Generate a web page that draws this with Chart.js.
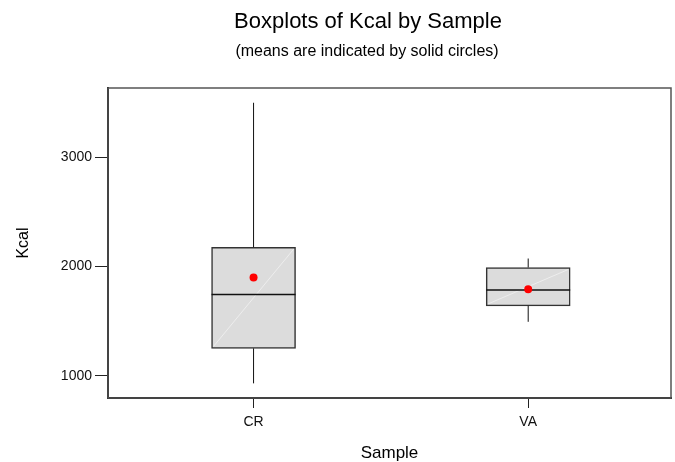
<!DOCTYPE html>
<html>
<head>
<meta charset="utf-8">
<script src="https://cdn.jsdelivr.net/npm/chart.js@4"></script>
<style>
  html, body { margin: 0; padding: 0; background: #fff; }
  #wrap { width: 675px; height: 462px; }
</style>
</head>
<body>
<div id="wrap"><canvas id="boxChart"></canvas></div>
<script>
// Kcal summary per sample
const samples = ['CR', 'VA'];
const whiskerLow = [930, 1493];
const q1 = [1250, 1639];
const median = [1743, 1783];
const q3 = [2175, 1990];
const whiskerHigh = [3497, 2072];
const means = [1899, 1792];
const yTicks = [1000, 2000, 3000];

const FONT = "'Liberation Sans', Arial, sans-serif";

// whiskers, median line and the faint diagonal inside each box
const boxParts = {
    id: 'boxParts',
    afterDatasetDraw(chart, args) {
        if (args.index !== 0) return;
        const { ctx, scales: { x, y } } = chart;
        const meta = chart.getDatasetMeta(0);
        ctx.save();
        meta.data.forEach((bar, i) => {
            const cx = x.getPixelForValue(i + 1);
            const half = bar.width / 2;
            const yTop = y.getPixelForValue(q3[i]);
            const yBot = y.getPixelForValue(q1[i]);

            ctx.strokeStyle = 'rgba(255,255,255,0.7)';
            ctx.lineWidth = 0.7;
            ctx.beginPath();
            ctx.moveTo(cx - half + 2, yBot - 2);
            ctx.lineTo(cx + half - 2, yTop + 2);
            ctx.stroke();

            ctx.strokeStyle = '#111';
            ctx.lineWidth = 1;
            ctx.beginPath();
            ctx.moveTo(cx, yTop);
            ctx.lineTo(cx, y.getPixelForValue(whiskerHigh[i]));
            ctx.moveTo(cx, yBot);
            ctx.lineTo(cx, y.getPixelForValue(whiskerLow[i]));
            ctx.stroke();

            const ym = y.getPixelForValue(median[i]);
            ctx.lineWidth = 1.5;
            ctx.beginPath();
            ctx.moveTo(cx - half, ym);
            ctx.lineTo(cx + half, ym);
            ctx.stroke();
        });
        ctx.restore();
    }
};

// frame round the plot area
const frame = {
    id: 'frame',
    beforeDatasetsDraw(chart) {
        const { ctx, chartArea: a } = chart;
        ctx.save();
        ctx.strokeStyle = '#555';
        ctx.lineWidth = 1.5;
        ctx.strokeRect(a.left, a.top, a.right - a.left, a.bottom - a.top);
        ctx.restore();
    }
};

// title and subtitle
const heading = {
    id: 'heading',
    afterDraw(chart) {
        const { ctx } = chart;
        ctx.save();
        ctx.fillStyle = '#000';
        ctx.textAlign = 'center';
        ctx.textBaseline = 'alphabetic';
        ctx.font = '22px ' + FONT;
        ctx.fillText('Boxplots of Kcal by Sample', 368, 28);
        ctx.font = '16px ' + FONT;
        ctx.fillText('(means are indicated by solid circles)', 367, 56);
        ctx.restore();
    }
};

new Chart(document.getElementById('boxChart'), {
    type: 'bar',
    data: {
        datasets: [
            {
                type: 'bar',
                data: samples.map((s, i) => ({ x: i + 1, y: [q1[i], q3[i]] })),
                backgroundColor: '#dcdcdc',
                borderColor: '#333',
                borderWidth: 1.5,
                borderSkipped: false,
                barThickness: 84,
                order: 2
            },
            {
                type: 'scatter',
                data: samples.map((s, i) => ({ x: i + 1, y: means[i] })),
                backgroundColor: '#ff0000',
                borderWidth: 0,
                pointRadius: 4,
                order: 1
            }
        ]
    },
    options: {
        responsive: true,
        maintainAspectRatio: false,
        animation: false,
        layout: { padding: { top: 88, right: 2, left: 0, bottom: 0 } },
        plugins: {
            legend: { display: false },
            tooltip: { enabled: false }
        },
        scales: {
            x: {
                type: 'linear',
                offset: false,
                min: 0.47,
                max: 2.52,
                afterBuildTicks: s => { s.ticks = samples.map((_, i) => ({ value: i + 1 })); },
                afterFit: s => { s.height = 64; },
                ticks: {
                    callback: v => samples[v - 1],
                    color: '#111',
                    font: { family: FONT, size: 14 },
                    padding: 6,
                    maxRotation: 0
                },
                grid: { offset: false, drawOnChartArea: false, tickLength: 10, tickColor: '#222', tickWidth: 1 },
                border: { color: '#111', width: 2 },
                title: { display: true, text: 'Sample', color: '#000', font: { family: FONT, size: 17 }, padding: { bottom: -2 } }
            },
            y: {
                min: 796,
                max: 3632,
                afterBuildTicks: s => { s.ticks = yTicks.map(v => ({ value: v })); },
                afterFit: s => { s.width = 108; },
                ticks: {
                    callback: v => String(v),
                    color: '#111',
                    font: { family: FONT, size: 14 },
                    padding: 3
                },
                grid: { drawOnChartArea: false, tickLength: 13, tickColor: '#222', tickWidth: 1 },
                border: { color: '#111', width: 2 },
                title: { display: true, text: 'Kcal', color: '#000', font: { family: FONT, size: 16 }, padding: { top: 14 } }
            }
        }
    },
    plugins: [frame, boxParts, heading]
});
</script>
</body>
</html>
